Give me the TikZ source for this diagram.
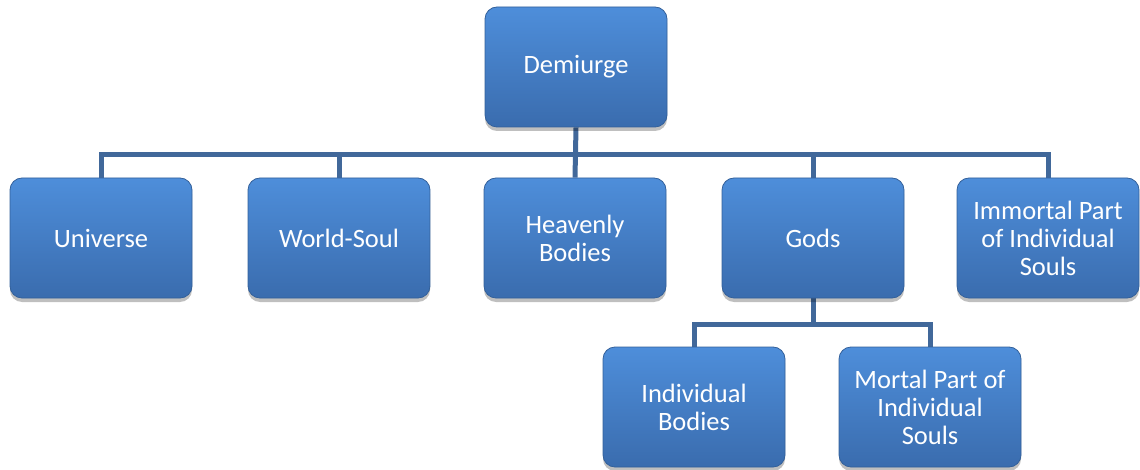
\documentclass[tikz,border=0pt]{standalone}
\usepackage{fontspec}
\setmainfont{Carlito}
\usetikzlibrary{shadows,backgrounds}
\definecolor{boxtop}{HTML}{4E8EDA}
\definecolor{boxbot}{HTML}{3A6CAE}
\definecolor{boxedge}{HTML}{33609A}
\definecolor{linkc}{HTML}{41689A}
\tikzset{
  box/.style={rectangle, rounded corners=12pt, minimum width=182pt, minimum height=120pt,
    top color=boxtop, bottom color=boxbot, draw=boxedge, line width=0.8pt,
    text=white, align=center, font=\fontsize{26.5}{28}\selectfont,
    drop shadow={shadow xshift=0pt, shadow yshift=-4pt, opacity=0.25, fill=black}},
  link/.style={draw=linkc, line width=5pt}
}
\begin{document}
\begin{tikzpicture}[x=1pt,y=-1pt]
\useasboundingbox (0,0) rectangle (1140,470);
\node[box] (dem) at (576,67) {Demiurge};
\node[box] (uni) at (101,238) {Universe};
\node[box] (ws) at (339,238) {World-Soul};
\node[box] (hb) at (575,238) {Heavenly\\Bodies};
\node[box] (gods) at (813,238) {Gods};
\node[box] (imm) at (1048,238) {Immortal Part\\of Individual\\Souls};
\node[box] (ib) at (694,407) {Individual\\Bodies};
\node[box] (mort) at (930,407) {Mortal Part of\\Individual\\Souls};
\coordinate (bus) at (576,155);
\coordinate (bus2) at (813,324);
\begin{pgfonlayer}{background}
\draw[link] (dem.south) -- (hb.north);
\draw[link] (uni.north) |- (bus) -| (imm.north);
\draw[link] (ws.north) -- (ws.north |- bus);
\draw[link] (gods.north) -- (gods.north |- bus);
\draw[link] (gods.south) -- (bus2);
\draw[link] (ib.north) |- (bus2) -| (mort.north);
\end{pgfonlayer}
\end{tikzpicture}
\end{document}
